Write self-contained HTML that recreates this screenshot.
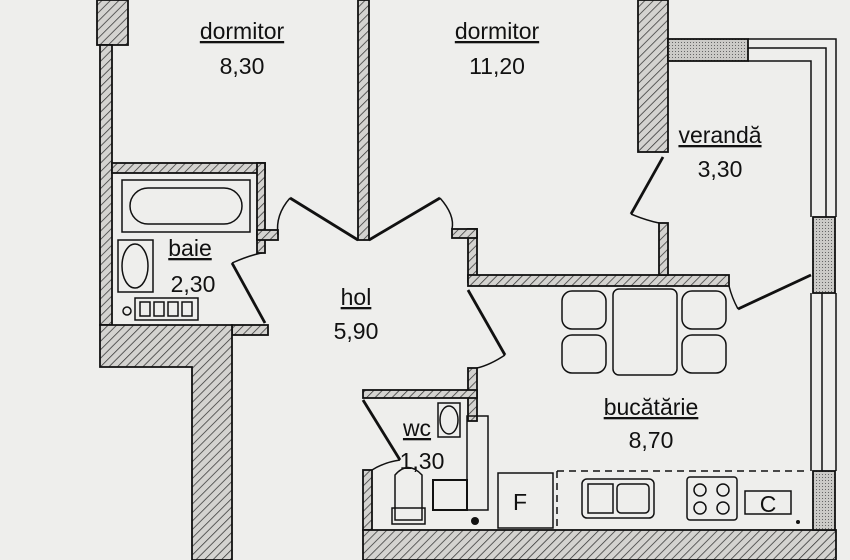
<!DOCTYPE html>
<html><head><meta charset="utf-8"><style>
html,body{margin:0;padding:0;background:#eeeeec;}
svg{display:block}
text{font-family:"Liberation Sans",sans-serif;fill:#111;font-size:23px;text-anchor:middle}
</style></head><body>
<svg width="850" height="560" viewBox="0 0 850 560" xmlns="http://www.w3.org/2000/svg">
<defs>
<pattern id="h" width="6" height="6" patternUnits="userSpaceOnUse" patternTransform="rotate(45)">
<rect width="6" height="6" fill="#d4d3d0"/><line x1="0" y1="0" x2="0" y2="6" stroke="#333" stroke-width="1.5"/>
</pattern>
<pattern id="d" width="3" height="3" patternUnits="userSpaceOnUse"><rect width="3" height="3" fill="#cbcac7"/><rect width="1" height="1" fill="#666"/></pattern>
</defs>
<rect width="850" height="560" fill="#eeeeec"/>
<g stroke="#111" stroke-width="1.8" fill="url(#h)">
<rect x="97" y="0" width="31" height="45"/>
<rect x="100" y="45" width="12" height="280"/>
<rect x="112" y="163" width="153" height="10"/>
<rect x="257" y="163" width="8" height="90"/>
<rect x="257" y="230" width="21" height="10"/>
<rect x="232" y="325" width="36" height="10"/>
<path d="M100 325 H232 V560 H192 V367 H100 Z"/>
<rect x="358" y="0" width="11" height="240"/>
<rect x="468" y="229" width="9" height="53"/>
<rect x="452" y="229" width="25" height="9"/>
<rect x="468" y="275" width="261" height="11"/>
<rect x="659" y="223" width="9" height="52"/>
<rect x="468" y="368" width="9" height="53"/>
<rect x="363" y="390" width="114" height="8"/>
<rect x="363" y="470" width="9" height="60"/>
<rect x="638" y="0" width="30" height="152"/>
<rect x="363" y="530" width="473" height="30"/>
</g>
<g stroke="#111" stroke-width="1.8" fill="url(#d)">
<rect x="668" y="39" width="80" height="22"/>
<rect x="813" y="217" width="22" height="76"/>
<rect x="813" y="471" width="22" height="59"/>
</g>
<g stroke="#111" stroke-width="1.5" fill="none">
<path d="M748 39 H836 V217 M748 61 H811 V217 M748 48 H826 V217"/>
<path d="M811 293 V471 M836 293 V471 M822 293 V471"/>
<path d="M358 240 L290 198" stroke-width="2.8"/><path d="M290 198 Q275 215 278 235"/>
<path d="M369 240 L440 198" stroke-width="2.8"/><path d="M440 198 Q455 215 452 229"/>
<path d="M232 263 L265 323" stroke-width="2.8"/><path d="M232 263 Q250 255 262 253"/>
<path d="M468 290 L505 355" stroke-width="2.8"/><path d="M505 355 Q490 365 477 368"/>
<path d="M363 400 L400 460" stroke-width="2.8"/><path d="M400 460 Q385 462 372 470"/>
<path d="M663 157 L631 214" stroke-width="2.8"/><path d="M631 214 Q645 220 659 223"/>
<path d="M811 275 L738 309" stroke-width="2.8"/><path d="M738 309 Q732 298 729 286"/>
<rect x="122" y="180" width="128" height="52"/>
<rect x="130" y="188" width="112" height="36" rx="18"/>
<rect x="118" y="240" width="35" height="52"/>
<ellipse cx="135" cy="266" rx="13" ry="22"/>
<rect x="135" y="298" width="63" height="22"/>
<rect x="140" y="302" width="10" height="14"/><rect x="154" y="302" width="10" height="14"/><rect x="168" y="302" width="10" height="14"/><rect x="182" y="302" width="10" height="14"/>
<circle cx="127" cy="311" r="4"/>
<rect x="438" y="403" width="22" height="34"/><ellipse cx="449" cy="420" rx="9" ry="14"/>
<rect x="467" y="416" width="21" height="94"/>
<rect x="433" y="480" width="34" height="30" stroke-width="2"/>
<path d="M395 520 V475 Q408 460 422 475 V520 Z"/><rect x="392" y="508" width="33" height="16"/>
<rect x="613" y="289" width="64" height="86" rx="6"/>
<rect x="562" y="291" width="44" height="38" rx="10"/><rect x="562" y="335" width="44" height="38" rx="10"/>
<rect x="682" y="291" width="44" height="38" rx="10"/><rect x="682" y="335" width="44" height="38" rx="10"/>
<path d="M557 471 H809 M557 471 V528" stroke-dasharray="7 5"/>
<rect x="498" y="473" width="55" height="55"/>
<rect x="582" y="479" width="72" height="39" rx="5"/><rect x="588" y="484" width="25" height="29"/><rect x="617" y="484" width="32" height="29" rx="4"/>
<rect x="687" y="477" width="50" height="43" rx="3"/>
<circle cx="700" cy="490" r="6"/><circle cx="723" cy="490" r="6"/><circle cx="700" cy="508" r="6"/><circle cx="723" cy="508" r="6"/>
<rect x="745" y="491" width="46" height="23"/>
</g>
<circle cx="475" cy="521" r="4" fill="#111"/><circle cx="798" cy="522" r="2" fill="#111"/>
<text x="242" y="39" text-decoration="underline">dormitor</text><text x="242" y="74">8,30</text>
<text x="497" y="39" text-decoration="underline">dormitor</text><text x="497" y="74">11,20</text>
<text x="720" y="143" text-decoration="underline">verandă</text><text x="720" y="177">3,30</text>
<text x="190" y="256" text-decoration="underline">baie</text><text x="193" y="292">2,30</text>
<text x="356" y="305" text-decoration="underline">hol</text><text x="356" y="339">5,90</text>
<text x="417" y="436" text-decoration="underline">wc</text><text x="422" y="469">1,30</text>
<text x="651" y="415" text-decoration="underline">bucătărie</text><text x="651" y="448">8,70</text>
<text x="520" y="510">F</text><text x="768" y="512">C</text>
</svg>
</body></html>
